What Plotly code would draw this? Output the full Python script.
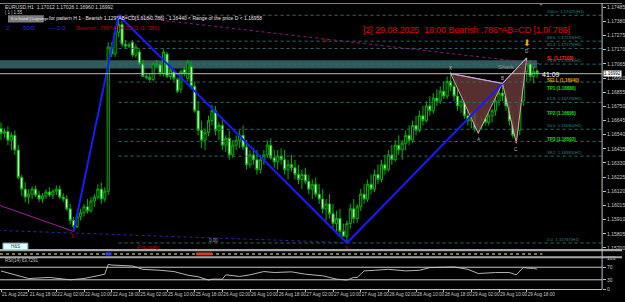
import plotly.graph_objects as go

W, H = 625, 302

# ---------------- data ----------------
bar_idx = list(range(156))
opens = [
1.16586, 1.16550, 1.16564, 1.16499, 1.16535, 1.16426, 1.16223, 1.16136, 1.16077, 1.16099,
1.16136, 1.16092, 1.16063, 1.16085, 1.16114, 1.16092, 1.16121, 1.16136, 1.16077, 1.16063,
1.15990, 1.15903, 1.15859, 1.15932, 1.15961, 1.16005, 1.15975, 1.16048, 1.16077, 1.16136,
1.16063, 1.16121, 1.17189, 1.17138, 1.17298, 1.17356, 1.17211, 1.17196, 1.17225, 1.17131,
1.17153, 1.17065, 1.16971, 1.16964, 1.16949, 1.17065, 1.17058, 1.16993, 1.17138, 1.16971,
1.17007, 1.16949, 1.16877, 1.17022, 1.16957, 1.17044, 1.16898, 1.16717, 1.16572, 1.16499,
1.16557, 1.16644, 1.16717, 1.16572, 1.16608, 1.16462, 1.16513, 1.16390, 1.16462, 1.16499,
1.16535, 1.16448, 1.16317, 1.16390, 1.16354, 1.16281, 1.16354, 1.16390, 1.16462, 1.16368,
1.16339, 1.16382, 1.16354, 1.16281, 1.16317, 1.16295, 1.16244, 1.16208, 1.16244, 1.16194,
1.16136, 1.16172, 1.16099, 1.16063, 1.15990, 1.16026, 1.15954, 1.15881, 1.15918, 1.15823,
1.15787, 1.15881, 1.15990, 1.15918, 1.16005, 1.16099, 1.16063, 1.16172, 1.16136, 1.16244,
1.16208, 1.16317, 1.16281, 1.16390, 1.16354, 1.16462, 1.16426, 1.16477, 1.16535, 1.16499,
1.16608, 1.16572, 1.16680, 1.16644, 1.16753, 1.16717, 1.16811, 1.16789, 1.16862, 1.16826,
1.16935, 1.16898, 1.16826, 1.16753, 1.16789, 1.16680, 1.16644, 1.16702, 1.16586, 1.16608,
1.16659, 1.16630, 1.16680, 1.16717, 1.16789, 1.16848, 1.16826, 1.16753, 1.16644, 1.16535,
1.16572, 1.16789, 1.17007, 1.17065, 1.16971, 1.17012]
highs = [
1.16630, 1.16586, 1.16601, 1.16557, 1.16572, 1.16462, 1.16244, 1.16186, 1.16136, 1.16157,
1.16164, 1.16121, 1.16106, 1.16136, 1.16150, 1.16136, 1.16164, 1.16164, 1.16106, 1.16092,
1.16026, 1.15932, 1.15954, 1.15990, 1.16026, 1.16063, 1.16077, 1.16099, 1.16172, 1.16186,
1.16150, 1.17225, 1.17225, 1.17320, 1.17425, 1.17385, 1.17240, 1.17225, 1.17240, 1.17211,
1.17174, 1.17094, 1.16993, 1.16993, 1.17080, 1.17094, 1.17080, 1.17174, 1.17153, 1.17044,
1.17022, 1.16964, 1.17022, 1.17044, 1.17094, 1.17080, 1.16935, 1.16789, 1.16644, 1.16586,
1.16680, 1.16760, 1.16753, 1.16630, 1.16659, 1.16535, 1.16572, 1.16499, 1.16535, 1.16572,
1.16608, 1.16499, 1.16426, 1.16440, 1.16426, 1.16390, 1.16426, 1.16499, 1.16513, 1.16426,
1.16426, 1.16440, 1.16426, 1.16354, 1.16390, 1.16354, 1.16317, 1.16281, 1.16295, 1.16244,
1.16208, 1.16223, 1.16172, 1.16136, 1.16063, 1.16099, 1.16026, 1.15975, 1.15990, 1.15881,
1.15903, 1.16026, 1.16063, 1.16026, 1.16136, 1.16172, 1.16208, 1.16244, 1.16281, 1.16317,
1.16354, 1.16390, 1.16426, 1.16462, 1.16499, 1.16535, 1.16499, 1.16572, 1.16608, 1.16644,
1.16680, 1.16717, 1.16753, 1.16789, 1.16826, 1.16848, 1.16877, 1.16898, 1.16935, 1.16971,
1.17007, 1.16935, 1.16877, 1.16804, 1.16826, 1.16731, 1.16717, 1.16731, 1.16644, 1.16680,
1.16717, 1.16702, 1.16731, 1.16826, 1.16877, 1.16920, 1.16862, 1.16789, 1.16717, 1.16608,
1.16826, 1.17044, 1.17109, 1.17094, 1.17044, 1.17026]
lows = [
1.16499, 1.16513, 1.16462, 1.16426, 1.16390, 1.16208, 1.16085, 1.16041, 1.16026, 1.16063,
1.16077, 1.16041, 1.16034, 1.16063, 1.16077, 1.16063, 1.16092, 1.16063, 1.16041, 1.15975,
1.15874, 1.15823, 1.15845, 1.15903, 1.15932, 1.15954, 1.15961, 1.16005, 1.16063, 1.16026,
1.16041, 1.16092, 1.17116, 1.17116, 1.17262, 1.17189, 1.17174, 1.17182, 1.17116, 1.17109,
1.17058, 1.16964, 1.16949, 1.16935, 1.16935, 1.17044, 1.16971, 1.16971, 1.16957, 1.16949,
1.16935, 1.16848, 1.16848, 1.16971, 1.16935, 1.16877, 1.16702, 1.16535, 1.16440, 1.16426,
1.16528, 1.16608, 1.16535, 1.16499, 1.16426, 1.16411, 1.16354, 1.16368, 1.16426, 1.16440,
1.16426, 1.16281, 1.16295, 1.16317, 1.16244, 1.16252, 1.16317, 1.16368, 1.16354, 1.16295,
1.16281, 1.16317, 1.16244, 1.16208, 1.16266, 1.16208, 1.16172, 1.16136, 1.16172, 1.16099,
1.16063, 1.16077, 1.16026, 1.15954, 1.15903, 1.15918, 1.15845, 1.15808, 1.15787, 1.15787,
1.15737, 1.15845, 1.15881, 1.15888, 1.15975, 1.16026, 1.16041, 1.16099, 1.16114, 1.16172,
1.16186, 1.16244, 1.16266, 1.16317, 1.16339, 1.16390, 1.16354, 1.16426, 1.16462, 1.16477,
1.16535, 1.16557, 1.16608, 1.16630, 1.16680, 1.16695, 1.16753, 1.16768, 1.16804, 1.16804,
1.16862, 1.16789, 1.16717, 1.16702, 1.16659, 1.16608, 1.16586, 1.16557, 1.16550, 1.16572,
1.16608, 1.16608, 1.16630, 1.16680, 1.16753, 1.16789, 1.16717, 1.16608, 1.16513, 1.16477,
1.16535, 1.16753, 1.16935, 1.16935, 1.16920, 1.16960]
closes = [
1.16550, 1.16564, 1.16499, 1.16535, 1.16426, 1.16223, 1.16136, 1.16077, 1.16099, 1.16136,
1.16092, 1.16063, 1.16085, 1.16114, 1.16092, 1.16121, 1.16136, 1.16077, 1.16063, 1.15990,
1.15903, 1.15859, 1.15932, 1.15961, 1.16005, 1.15975, 1.16048, 1.16077, 1.16136, 1.16063,
1.16121, 1.17189, 1.17138, 1.17298, 1.17356, 1.17211, 1.17196, 1.17204, 1.17131, 1.17189,
1.17065, 1.16971, 1.16964, 1.16949, 1.17065, 1.17058, 1.16993, 1.17153, 1.16971, 1.17022,
1.16957, 1.16862, 1.17007, 1.16993, 1.17080, 1.16898, 1.16717, 1.16572, 1.16499, 1.16557,
1.16644, 1.16717, 1.16572, 1.16608, 1.16462, 1.16513, 1.16390, 1.16462, 1.16499, 1.16535,
1.16448, 1.16317, 1.16390, 1.16354, 1.16281, 1.16354, 1.16390, 1.16462, 1.16368, 1.16339,
1.16382, 1.16354, 1.16281, 1.16317, 1.16295, 1.16244, 1.16208, 1.16244, 1.16194, 1.16136,
1.16172, 1.16099, 1.16063, 1.15990, 1.16026, 1.15954, 1.15881, 1.15918, 1.15823, 1.15787,
1.15881, 1.15990, 1.15918, 1.16005, 1.16099, 1.16063, 1.16172, 1.16136, 1.16244, 1.16208,
1.16317, 1.16281, 1.16390, 1.16354, 1.16462, 1.16426, 1.16477, 1.16535, 1.16499, 1.16608,
1.16572, 1.16680, 1.16644, 1.16753, 1.16717, 1.16811, 1.16789, 1.16862, 1.16826, 1.16935,
1.16898, 1.16826, 1.16753, 1.16789, 1.16680, 1.16644, 1.16702, 1.16586, 1.16608, 1.16659,
1.16630, 1.16680, 1.16717, 1.16789, 1.16848, 1.16826, 1.16753, 1.16644, 1.16535, 1.16572,
1.16789, 1.17007, 1.17065, 1.16971, 1.17007, 1.16992]

time_labels = ["21 Aug 2025", "21 Aug 18:00", "22 Aug 02:00", "22 Aug 10:00", "22 Aug 18:00",
               "25 Aug 02:00", "25 Aug 10:00", "25 Aug 18:00", "26 Aug 02:00", "26 Aug 10:00",
               "26 Aug 18:00", "27 Aug 02:00", "27 Aug 10:00", "27 Aug 18:00", "28 Aug 02:00",
               "28 Aug 10:00", "28 Aug 18:00", "29 Aug 02:00", "29 Aug 10:00", "29 Aug 18:00"]
time_label_idx = [0, 8, 16, 24, 32, 40, 48, 56, 64, 72, 80, 88, 96, 104, 112, 120, 128, 136, 144, 152]

price_ticks = [1.17485, 1.17380, 1.17275, 1.17170, 1.17065, 1.16960, 1.16855, 1.16750, 1.16645,
               1.16540, 1.16435, 1.16330, 1.16225, 1.16120, 1.16015, 1.15910, 1.15805, 1.15700]

rsi_idx = [0, 5, 8, 14, 20, 24, 28, 30, 31, 32, 38, 41, 46, 50, 54, 57, 60, 61, 64, 65, 69, 72, 76,
           79, 84, 88, 93, 97, 100, 102, 103, 105, 108, 112, 117, 121, 124, 129, 131, 135, 138,
           143, 147, 149, 151, 153, 154, 155]
rsi_vals = [58, 44, 34, 37.5, 30, 34, 44.7, 47.8, 79, 77, 74, 63.4, 60.3, 56.3, 44.7, 39.7, 29,
            32, 32, 45.9, 40.6, 45.9, 56.3, 53.1, 55.3, 47.8, 42.8, 32.2, 29.1, 37.5, 37.5, 58.4,
            60.3, 63.4, 58.4, 60.3, 68.8, 71.9, 70.9, 63.4, 50, 53.1, 53.1, 45.9, 68.8, 66.6,
            66.6, 63.73]
rsi_ticks = [100, 70, 30, 0]
rsi_levels = [70, 30]

zigzag_idx = [21, 34, 100, 145]
zigzag_price = [1.15823, 1.17425, 1.15737, 1.16920]

pattern_names = ["X", "A", "B", "C", "D"]
pattern_idx = [130, 138, 145, 149, 152]
pattern_price = [1.16993, 1.16550, 1.16920, 1.16477, 1.17109]

fib_names = ["100.0", "88.6", "85.4", "78.6", "70.7", "61.8", "50.0", "44.7", "38.2", "0.0"]
fib_prices = [1.17425, 1.17233, 1.17179, 1.17063, 1.16930, 1.16779, 1.16580, 1.16490, 1.16381, 1.15737]
fib_label_on = [True, True, True, True, False, True, True, False, True, True]
fib_start_idx = 34

trade_names = ["SL", "SELL", "TP1", "TP2", "TP3"]
trade_prices = [1.17108, 1.16940, 1.16880, 1.16695, 1.16502]
trade_colors = ["#ff2a2a", "#f0a000", "#10e010", "#10e010", "#10e010"]

band_prices = [1.17031, 1.17092]
band_idx = [-1, 155]
bid_price = 1.16992

purple_trend_idx = [34, 156]
purple_trend_price = [1.17425, 1.17065]
purple_left_idx = [-1, 21]
purple_left_price = [1.16021, 1.15823]
navy_trend_idx = [-1, 100]
navy_trend_price = [1.15830, 1.15740]
lucky_idx = [100, 100]
lucky_price = [1.15718, 1.15688]

# ---------------- figure ----------------
FONT = "Liberation Sans, Arial, sans-serif"
NARROW = "Liberation Sans Narrow, Liberation Sans, Arial, sans-serif"
X_MAX_FRAC = 605 / W
Y_MAIN = [1 - 252 / H, 1.0]
Y_RSI = [1 - 292 / H, 1 - 260 / H]


def px(x):
    return x / W


def py(y):
    return 1 - y / H


fig = go.Figure()

# pattern triangles (behind candles)
for tri in ([0, 1, 2, 0], [2, 3, 4, 2]):
    fig.add_trace(go.Scatter(
        x=[pattern_idx[i] for i in tri], y=[pattern_price[i] for i in tri],
        mode="lines", fill="toself", fillcolor="rgba(98,52,52,0.9)",
        line=dict(color="#d9a3ad", width=1), hoverinfo="skip"))

# fib lines
for p in fib_prices:
    fig.add_trace(go.Scatter(x=[fib_start_idx, 174], y=[p, p], mode="lines",
                             line=dict(color="#2b6e6e", width=1, dash="dot"), hoverinfo="skip"))

fig.add_trace(go.Scatter(x=navy_trend_idx, y=navy_trend_price, mode="lines",
                         line=dict(color="#2a2aa0", width=1, dash="dot"), hoverinfo="skip"))
fig.add_trace(go.Scatter(x=purple_trend_idx, y=purple_trend_price, mode="lines",
                         line=dict(color="#8a1a8a", width=1, dash="dot"), hoverinfo="skip"))
fig.add_trace(go.Scatter(x=purple_left_idx, y=purple_left_price, mode="lines",
                         line=dict(color="#a020a0", width=1), hoverinfo="skip"))

# candles
fig.add_trace(go.Candlestick(
    x=bar_idx, open=opens, high=highs, low=lows, close=closes,
    increasing=dict(line=dict(color="#00b400", width=1), fillcolor="#000000"),
    decreasing=dict(line=dict(color="#00b400", width=1), fillcolor="#e6ffe6"),
    whiskerwidth=0, hoverinfo="skip"))

# zigzag
fig.add_trace(go.Scatter(x=zigzag_idx, y=zigzag_price, mode="lines",
                         line=dict(color="#1a1aff", width=2), hoverinfo="skip"))

# X-B and B-D lines
fig.add_trace(go.Scatter(x=[pattern_idx[0], pattern_idx[2], pattern_idx[4]],
                         y=[pattern_price[0], pattern_price[2], pattern_price[4]],
                         mode="lines", line=dict(color="#c8a8e8", width=1), hoverinfo="skip"))

# red tick under the swing low
fig.add_trace(go.Scatter(x=lucky_idx, y=lucky_price, mode="lines",
                         line=dict(color="#b00000", width=1), hoverinfo="skip"))

# RSI
fig.add_trace(go.Scatter(x=rsi_idx, y=rsi_vals, mode="lines", yaxis="y2",
                         line=dict(color="#b4b4b4", width=1), hoverinfo="skip"))

shapes = []
shapes.append(dict(type="rect", xref="x", yref="y", x0=band_idx[0], x1=band_idx[1],
                   y0=band_prices[0], y1=band_prices[1], fillcolor="#2f5a5c",
                   line=dict(width=0), layer="below"))
shapes.append(dict(type="line", xref="paper", yref="y", x0=0, x1=X_MAX_FRAC,
                   y0=bid_price, y1=bid_price, line=dict(color="#b8b8b8", width=1)))
for lv in rsi_levels:
    shapes.append(dict(type="line", xref="paper", yref="y2", x0=0, x1=X_MAX_FRAC,
                       y0=lv, y1=lv, line=dict(color="#c8c8c8", width=1)))
shapes.append(dict(type="rect", xref="paper", yref="paper", x0=0, x1=1, y0=py(253.3), y1=py(251),
                   fillcolor="#a8a8a8", line=dict(width=0)))
shapes.append(dict(type="rect", xref="paper", yref="paper", x0=0, x1=1, y0=py(260.3), y1=py(258.5),
                   fillcolor="#a8a8a8", line=dict(width=0)))
shapes.append(dict(type="rect", xref="paper", yref="paper", x0=0, x1=1, y0=py(1), y1=py(0),
                   fillcolor="#808080", line=dict(width=0)))
shapes.append(dict(type="line", xref="paper", yref="paper", x0=0, x1=px(545), y0=py(256), y1=py(256),
                   line=dict(color="#7a7a48", width=2, dash="dot")))
shapes.append(dict(type="rect", xref="paper", yref="paper", x0=px(106), x1=px(112), y0=py(257.5), y1=py(254.5),
                   fillcolor="#3040ff", line=dict(width=0)))
shapes.append(dict(type="rect", xref="paper", yref="paper", x0=px(197), x1=px(213), y0=py(257.5), y1=py(254.5),
                   fillcolor="#d04020", line=dict(width=0)))
shapes.append(dict(type="line", xref="paper", yref="paper", x0=X_MAX_FRAC, x1=X_MAX_FRAC, y0=py(292), y1=1,
                   line=dict(color="#c0c0c0", width=1)))
shapes.append(dict(type="rect", xref="paper", yref="paper", x0=px(3), x1=px(28), y0=py(252), y1=py(245),
                   fillcolor="#dcffff", line=dict(color="#90b0b0", width=1)))
shapes.append(dict(type="rect", xref="paper", yref="paper", x0=px(8), x1=px(44), y0=py(20), y1=py(12.5),
                   fillcolor="#7c7c7c", line=dict(width=0)))

ann = []


def text(t, x, y, size, color, xanchor="left", yanchor="middle", family=FONT, **kw):
    d = dict(text=t, x=px(x), y=py(y), xref="paper", yref="paper", showarrow=False,
             xanchor=xanchor, yanchor=yanchor, font=dict(size=size, color=color, family=family))
    d.update(kw)
    ann.append(d)


text("EURUSD,H1  1.17012 1.17026 1.16960 1.16992", 3, 4.5, 5, "#d8d8d8")
text("| 1 | 1.55", 3, 9.5, 4.5, "#c8c8c8")
text("It is found | Lagrange", 9, 16.3, 4, "#e8e8e8", family=NARROW)
text("for pattern H 1 - Bearish 1.129*AB=CD[1.618/0.786] - 1.16440 < Range of the price D < 1.16958",
     47, 15.5, 5, "#e8e8e8", family=NARROW)
text("2", 4, 26, 6, "#2828ff")
text("50/0", 21, 26, 6, "#2828ff")
text("\u2014 2-0", 47, 26, 6, "#2828ff")
text("Bearish .786*AB=CD [1.0/.786]", 74, 26, 6, "#b80000")
text("[2] 29.08.2025  18:00 Bearish .786*AB=CD [1.0/.786]", 363, 28, 8.8, "#e60000")
text("41:09", 543, 73.3, 7, "#ffffff")
text("3", 73, 237.5, 6, "#c00000", xanchor="center")
text("0.00", 208, 242, 4.5, "#a0a0a0")
text("FxLucky", 136, 248.5, 6, "#c00000")
text("H&S", 15.5, 248.5, 4.5, "#404040", xanchor="center")
text("RSI(14) 63.7291", 3, 263, 4.5, "#c8c8c8")
text("2M", 322, 38, 4, "#c00000")
text("Shark", 498, 65, 6, "#9a8a8a")
text("\u25bc", 544, 2, 4, "#909090", xanchor="center")

for name, p, on in zip(fib_names, fib_prices, fib_label_on):
    if on:
        ann.append(dict(text=f"{name}  {p:.5f}(H1)", x=px(548), y=p, xref="paper", yref="y",
                        yshift=3.5, showarrow=False, xanchor="left", yanchor="middle",
                        font=dict(size=4.3, color="#2f8a8a", family=FONT)))
for name, p, c in zip(trade_names, trade_prices, trade_colors):
    ann.append(dict(text=f"<b>{name} ({p:.5f})</b>", x=px(548), y=p, xref="paper", yref="y",
                    showarrow=False, xanchor="left", yanchor="middle",
                    font=dict(size=4.5, color=c, family=FONT)))
shifts = [5, -6, 5, -6, 6]
for n, i, p, s in zip(pattern_names, pattern_idx, pattern_price, shifts):
    ann.append(dict(text=n, x=i, y=p, xref="x", yref="y", yshift=s, showarrow=False,
                    font=dict(size=4.5, color="#c8b0b0", family=FONT)))
ann.append(dict(text="\u2b07", x=pattern_idx[4], y=pattern_price[4], xref="x", yref="y", yshift=15,
                showarrow=False, font=dict(size=9, color="#ffa500", family="DejaVu Sans")))
ann.append(dict(text="1.16992", x=px(606), y=bid_price, xref="paper", yref="y", showarrow=False,
                xanchor="left", yanchor="middle", bgcolor="#ffffff", borderpad=0,
                font=dict(size=4.5, color="#000000", family=FONT)))

axis_font = dict(size=5, color="#c8c8c8", family=FONT)
fig.update_layout(
    width=W, height=H, margin=dict(l=0, r=0, t=0, b=0),
    paper_bgcolor="#000000", plot_bgcolor="#000000", showlegend=False,
    boxgap=0.12,
    xaxis=dict(domain=[0, X_MAX_FRAC], range=[-0.288, 173.8], anchor="y2",
               tickvals=time_label_idx, ticktext=time_labels, ticklabelposition="outside right",
               tickangle=0, tickfont=dict(size=4.6, color="#c8c8c8", family=NARROW),
               ticks="outside", ticklen=2, tickcolor="#c0c0c0",
               showline=True, linecolor="#c0c0c0", linewidth=1, showgrid=False, zeroline=False,
               rangeslider=dict(visible=False), fixedrange=True),
    yaxis=dict(domain=Y_MAIN, range=[1.15685, 1.17516], side="right", anchor="x",
               tickvals=price_ticks, tickformat=".5f", tickfont=axis_font, ticks="outside",
               ticklen=3, tickcolor="#c0c0c0", showline=False, showgrid=False, zeroline=False,
               fixedrange=True),
    yaxis2=dict(domain=Y_RSI, range=[0, 100], side="right", anchor="x",
                tickvals=rsi_ticks, tickfont=axis_font, ticks="outside", ticklen=3,
                tickcolor="#c0c0c0", showline=False, showgrid=False, zeroline=False, fixedrange=True),
    shapes=shapes, annotations=ann,
)

fig.write_html("out.html")
